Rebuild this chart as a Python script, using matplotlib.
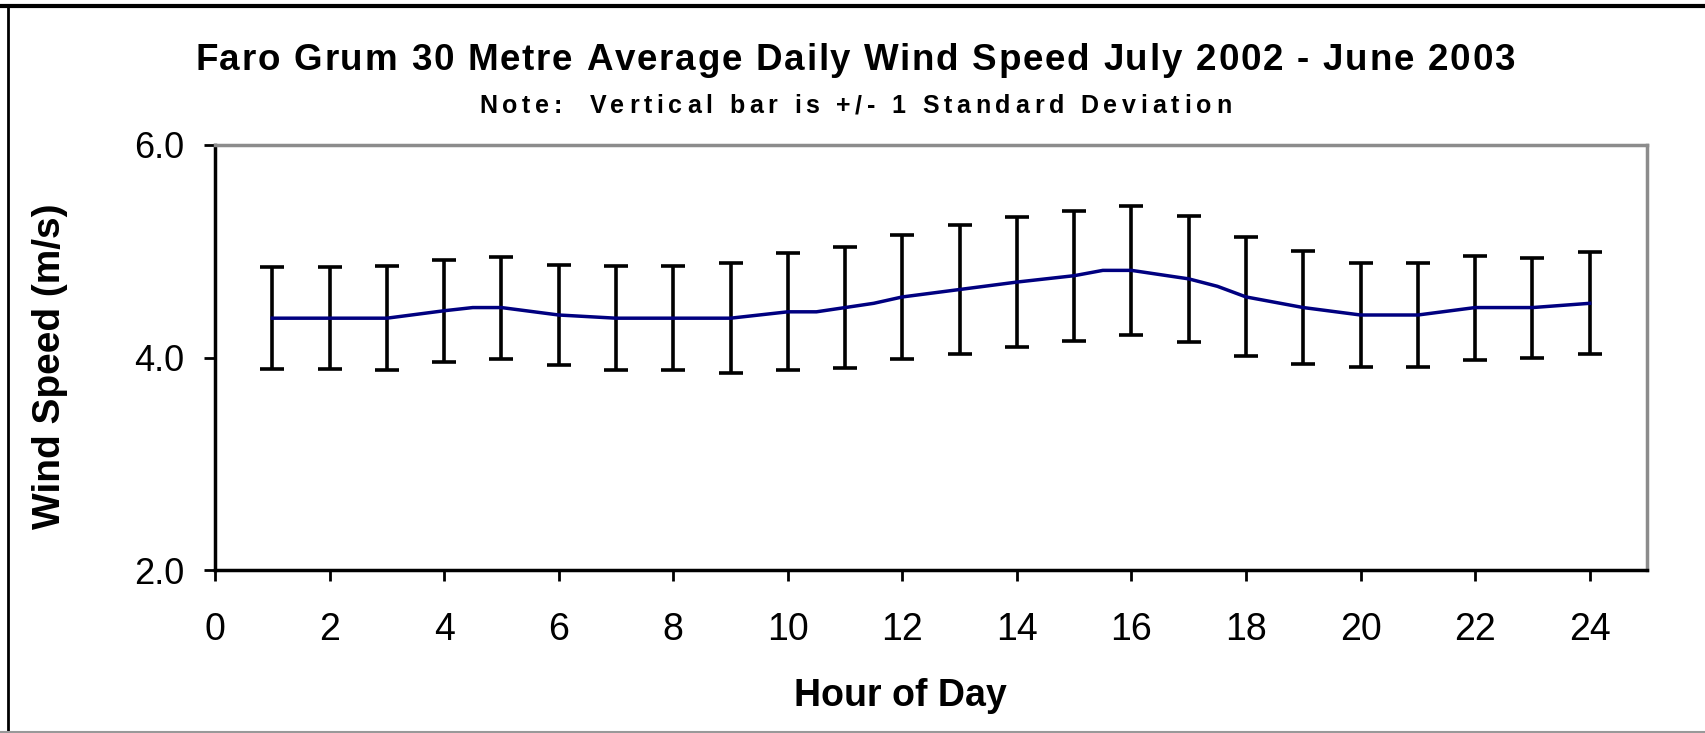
import numpy as np
import matplotlib.pyplot as plt
from matplotlib.lines import Line2D

# ---- data ----
hours = np.arange(1, 25)
mean_speed = [4.37, 4.37, 4.37, 4.44, 4.47, 4.40, 4.37, 4.37, 4.37, 4.43, 4.47, 4.57,
              4.64, 4.71, 4.77, 4.82, 4.74, 4.57, 4.47, 4.40, 4.40, 4.47, 4.47, 4.51]
std_speed = [0.48, 0.48, 0.49, 0.48, 0.48, 0.47, 0.49, 0.49, 0.52, 0.55, 0.57, 0.58,
             0.61, 0.61, 0.61, 0.61, 0.59, 0.56, 0.53, 0.49, 0.49, 0.49, 0.47, 0.48]
# extra half-hour points visible on the line
half_hours = [4.5, 10.5, 11.5, 15.5, 17.5]
half_speed = [4.47, 4.43, 4.51, 4.82, 4.67]

title = 'Faro Grum 30 Metre Average Daily Wind Speed July 2002 - June 2003'
note = 'Note:  Vertical bar is +/- 1 Standard Deviation'

line_x = np.concatenate([hours, half_hours])
line_y = np.concatenate([mean_speed, half_speed])
order = np.argsort(line_x)
line_x, line_y = line_x[order], line_y[order]

plt.rcParams['font.family'] = ['Liberation Sans', 'DejaVu Sans']

W, H = 1705, 733
fig = plt.figure(figsize=(W / 100, H / 100), dpi=100)
ax = fig.add_axes([215 / W, 1 - 570 / H, (1647 - 215) / W, (570 - 145) / H])

ax.errorbar(hours, mean_speed, yerr=std_speed, fmt='none', ecolor='black',
            elinewidth=2.6, capsize=8.5, capthick=2.6, zorder=2)
ax.plot(line_x, line_y, color='#000080', lw=2.5, zorder=3)

ax.set_xlim(0, 25)
ax.set_ylim(2, 6)
ax.set_xticks(np.arange(0, 25, 2))
ax.set_yticks([2, 4, 6])
ax.set_yticklabels(['2.0', '4.0', '6.0'])
ax.tick_params(axis='both', direction='out', length=8, width=2, colors='black')
ax.tick_params(axis='x', pad=22, labelsize=27)
ax.tick_params(axis='y', pad=14, labelsize=26)

for side in ['left', 'bottom']:
    ax.spines[side].set_linewidth(2.5)
    ax.spines[side].set_color('black')
for side in ['top', 'right']:
    ax.spines[side].set_linewidth(2.5)
    ax.spines[side].set_color('#8c8c8c')

ax.set_xlabel('Hour of Day', fontsize=27, fontweight='bold', va='center', ha='center')
ax.xaxis.set_label_coords((900 - 215) / 1432, (570 - 696) / 425)
ax.set_ylabel('Wind Speed (m/s)', fontsize=28, fontweight='bold', va='center', ha='center')
ax.yaxis.set_label_coords((50 - 215) / 1432, (570 - 366) / 425)

renderer = fig.canvas.get_renderer()


def char_width(ch, fs):
    # advance width of one character in pixels
    t1 = fig.text(0, 0, 'a' + ch + 'a', fontsize=fs, fontweight='bold')
    t2 = fig.text(0, 0, 'aa', fontsize=fs, fontweight='bold')
    w = t1.get_window_extent(renderer).width - t2.get_window_extent(renderer).width
    t1.remove()
    t2.remove()
    return w


def spaced_text(s, xc, y, fs, target):
    # letter-spaced text centred at xc (px), spanning about target px
    widths = [char_width(ch, fs) for ch in s]
    gap = (target - sum(widths)) / (len(s) - 1)
    x = xc - target / 2
    for ch, w in zip(s, widths):
        fig.text(x / W, 1 - y / H, ch, fontsize=fs, fontweight='bold', ha='left', va='center')
        x += w + gap


spaced_text(title, 855, 60, 26.5, 1320)
spaced_text(note, 855, 106, 18, 752)

# figure frame
fig.add_artist(Line2D([0, 1], [1 - 6 / H, 1 - 6 / H], transform=fig.transFigure, color='black', lw=3))
fig.add_artist(Line2D([8 / W, 8 / W], [0, 1 - 6 / H], transform=fig.transFigure, color='black', lw=2))
fig.add_artist(Line2D([0, 1], [1 / H, 1 / H], transform=fig.transFigure, color='#999999', lw=1.5))

fig.savefig('out.png', dpi=100)
